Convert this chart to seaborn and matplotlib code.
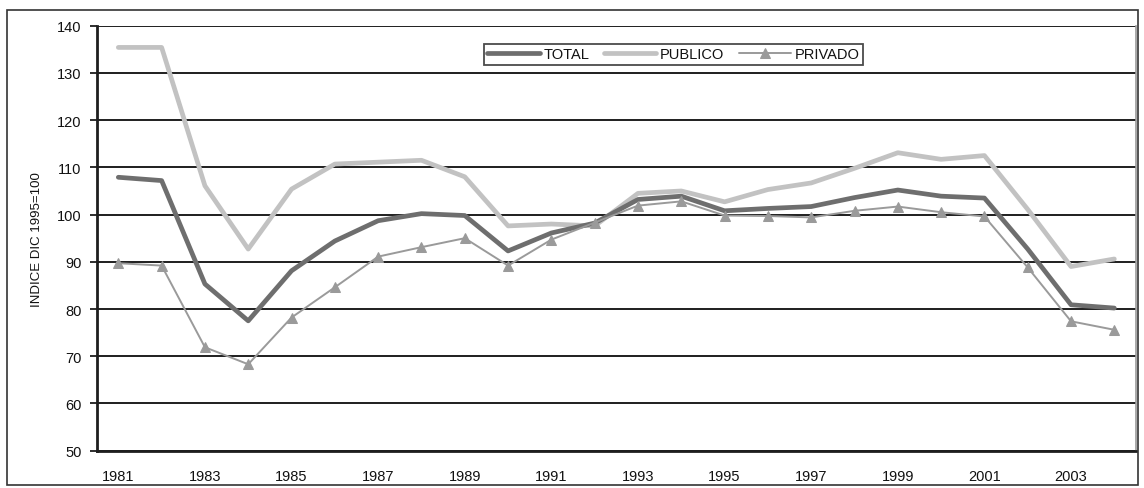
import matplotlib
matplotlib.use("Agg")
import matplotlib.pyplot as plt
import seaborn as sns
import pandas as pd
from matplotlib.patches import Rectangle

years = list(range(1981, 2005))
total = [107.9, 107.2, 85.3, 77.5, 88.1, 94.4, 98.7, 100.2, 99.8, 92.3, 96.1, 98.2,
         103.2, 103.9, 100.8, 101.3, 101.7, 103.6, 105.2, 103.9, 103.5, 92.7, 80.9, 80.2]
publico = [135.4, 135.4, 106.1, 92.7, 105.4, 110.7, 111.1, 111.5, 108.0, 97.6, 98.0, 97.6,
           104.5, 105.0, 102.7, 105.3, 106.7, 109.8, 113.1, 111.7, 112.5, 101.1, 89.0, 90.6]
privado = [89.7, 89.2, 71.9, 68.3, 78.2, 84.6, 91.1, 93.1, 95.0, 89.2, 94.7, 98.3,
           101.9, 102.8, 99.8, 99.7, 99.4, 100.8, 101.7, 100.5, 99.6, 88.8, 77.4, 75.6]
series_names = ["TOTAL", "PUBLICO", "PRIVADO"]
ylabel = "INDICE DIC 1995=100"
xtick_years = list(range(1981, 2005, 2))
yticks = list(range(50, 141, 10))

df = pd.DataFrame({"year": years, "TOTAL": total, "PUBLICO": publico, "PRIVADO": privado})

sns.set_theme(style="white")
plt.rcParams["font.family"] = ["Liberation Sans", "DejaVu Sans"]

fig = plt.figure(figsize=(11.44, 4.89), dpi=100)
ax = fig.add_axes([0.0845, 0.0763, 0.9085, 0.8691])

for y in yticks:
    ax.axhline(y, color="#1e1e1e", lw=1.4, zorder=1)

sns.lineplot(data=df, x="year", y="TOTAL", ax=ax, color="#6e6e6e", lw=3.4,
             label="TOTAL", zorder=3)
sns.lineplot(data=df, x="year", y="PUBLICO", ax=ax, color="#c2c2c2", lw=3.4,
             label="PUBLICO", zorder=2)
sns.lineplot(data=df, x="year", y="PRIVADO", ax=ax, color="#9a9a9a", lw=1.4,
             marker="^", markersize=7, markeredgecolor="#9a9a9a",
             label="PRIVADO", zorder=4)

ax.set_xlim(1980.5, 2004.5)
ax.set_ylim(50, 140)
ax.set_xticks(xtick_years)
ax.set_xticklabels([str(y) for y in xtick_years], fontsize=10.5, color="#111111")
ax.set_yticks(yticks)
ax.set_yticklabels([str(y) for y in yticks], fontsize=10.5, color="#111111")
ax.tick_params(axis="y", length=5, width=1.3, color="#1e1e1e", pad=6, left=True)
ax.tick_params(axis="x", length=0, pad=13)
ax.set_xlabel("")
ax.set_ylabel(ylabel, fontsize=9.5, labelpad=10, family=["Liberation Sans Narrow", "Liberation Sans"],
              color="#111111")

for side in ["left", "bottom"]:
    ax.spines[side].set_color("#1e1e1e")
    ax.spines[side].set_linewidth(2)
ax.spines["top"].set_visible(False)
ax.spines["right"].set_color("#999999")
ax.spines["right"].set_linewidth(1.2)

leg = ax.legend(loc="upper center", bbox_to_anchor=(0.555, 0.975), ncol=3, frameon=True,
                fancybox=False, edgecolor="#1e1e1e", fontsize=10.5, handlelength=3.6,
                columnspacing=1.0, borderpad=0.25, handletextpad=0.25)
leg.get_frame().set_linewidth(1.3)
for t in leg.get_texts():
    t.set_color("#111111")

fig.patches.append(Rectangle((0.006, 0.006), 0.989, 0.972, transform=fig.transFigure,
                             fill=False, edgecolor="#333333", lw=1.2))

fig.savefig("out.png", dpi=100)
